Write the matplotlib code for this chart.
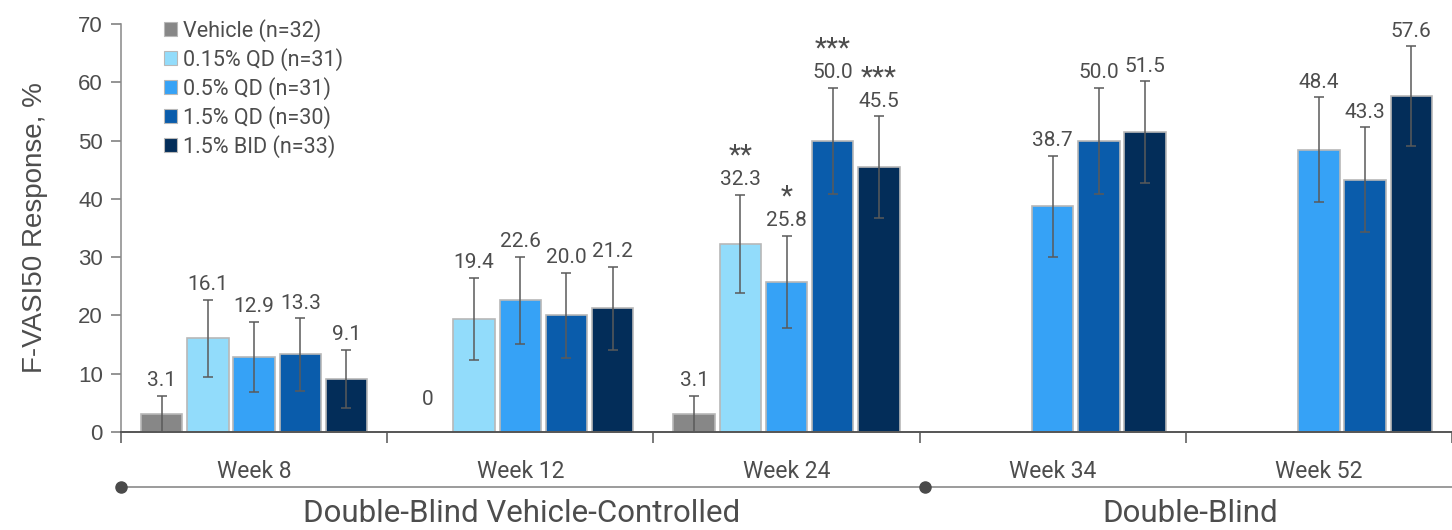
import numpy as np
import matplotlib
matplotlib.use("Agg")
import matplotlib.pyplot as plt
from matplotlib.patches import Patch
from matplotlib.lines import Line2D

weeks = ["Week 8", "Week 12", "Week 24", "Week 34", "Week 52"]
groups = ["Vehicle (n=32)", "0.15% QD (n=31)", "0.5% QD (n=31)",
          "1.5% QD (n=30)", "1.5% BID (n=33)"]
colors = ["#878787", "#92dcfb", "#36a2f6", "#0a5cab", "#032d59"]

# response rate per group, one entry per week (None = not assessed)
vehicle = [3.1, 0.0, 3.1, None, None]
qd015 = [16.1, 19.4, 32.3, None, None]
qd05 = [12.9, 22.6, 25.8, 38.7, 48.4]
qd15 = [13.3, 20.0, 50.0, 50.0, 43.3]
bid15 = [9.1, 21.2, 45.5, 51.5, 57.6]

# standard errors
vehicle_se = [3.1, 0.0, 3.1, None, None]
qd015_se = [6.6, 7.1, 8.4, None, None]
qd05_se = [6.0, 7.5, 7.9, 8.7, 9.0]
qd15_se = [6.2, 7.3, 9.1, 9.1, 9.0]
bid15_se = [5.0, 7.1, 8.7, 8.7, 8.6]

stars = {(2, 1): "**", (2, 2): "*", (2, 3): "***", (2, 4): "***"}

values = [vehicle, qd015, qd05, qd15, bid15]
errors = [vehicle_se, qd015_se, qd05_se, qd15_se, bid15_se]

txt = "#4d4d4d"
dinlike = ["Roboto", "DejaVu Sans"]

fig = plt.figure(figsize=(14.52, 5.30), dpi=100)
ax = fig.add_axes([121 / 1452, 1 - 432 / 530, 1331 / 1452, 408 / 530])

x = np.arange(len(weeks))
pitch = 0.1735
width = 0.156

for i, (vals, errs) in enumerate(zip(values, errors)):
    for j in range(len(weeks)):
        v = vals[j]
        if v is None:
            continue
        e = errs[j]
        xp = x[j] + (i - 2) * pitch
        if v > 0:
            ax.bar(xp, v, width, color=colors[i], edgecolor="#b8b8b8",
                   linewidth=1.2, zorder=2)
        if e > 0:
            ax.errorbar(xp, v, yerr=[[min(e, v)], [e]], fmt="none",
                        ecolor="#5a5a5a", elinewidth=1.1, capsize=3.5,
                        capthick=1.1, zorder=3)
        top = v + e if v + e > 0 else 3.0
        ax.annotate(f"{v:.1f}" if v > 0 else "0", (xp, top),
                    xytext=(0, 4), textcoords="offset points",
                    ha="center", va="bottom", fontsize=15,
                    color=txt, family=dinlike)
        if (j, i) in stars:
            ax.annotate(stars[(j, i)], (xp, top), xytext=(0, 18),
                        textcoords="offset points", ha="center",
                        va="bottom", fontsize=20, color=txt,
                        family=dinlike)

ax.set_xlim(-0.5, 4.5)
ax.set_ylim(0, 70)
ax.set_yticks(range(0, 71, 10))
ax.tick_params(axis="y", labelsize=16, labelcolor=txt, color="#777777",
               length=7, width=1.1, pad=6)
for lab in ax.get_yticklabels():
    lab.set_family("Liberation Sans")

ax.set_xticks(np.arange(-0.5, 5.0, 1.0))
ax.set_xticklabels([])
ax.set_xticks(x, minor=True)
ax.set_xticklabels(weeks, minor=True, fontsize=16.5, color=txt,
                   family=dinlike)
ax.tick_params(axis="x", which="major", length=8, width=1.1,
               color="#555555")
ax.tick_params(axis="x", which="minor", length=0, pad=20)

for s in ["top", "right"]:
    ax.spines[s].set_visible(False)
ax.spines["left"].set_color("#888888")
ax.spines["left"].set_linewidth(1.1)
ax.spines["bottom"].set_color("#555555")
ax.spines["bottom"].set_linewidth(1.4)

ax.set_ylabel("F-VASI50 Response, %", fontsize=20, color=txt,
              family="Liberation Sans", labelpad=22)

handles = [Patch(facecolor=c, edgecolor="#b8b8b8", linewidth=0.8)
           for c in colors]
leg = ax.legend(handles, groups, loc="upper left",
                bbox_to_anchor=(164 / 1452, 1 - 19 / 530),
                bbox_transform=fig.transFigure, frameon=False,
                handlelength=0.6, handleheight=0.6,
                handletextpad=0.3, labelspacing=0.28, borderaxespad=0,
                borderpad=0, prop={"family": dinlike, "size": 15.5})
for t in leg.get_texts():
    t.set_color(txt)

# study phase bracket under the axis
yb = 1 - 487 / 530
fig.add_artist(Line2D([121 / 1452, 1.0], [yb, yb], color="#8a8a8a",
                      linewidth=1.2, transform=fig.transFigure))
for xd in [121 / 1452, 925 / 1452]:
    fig.add_artist(Line2D([xd], [yb], marker="o", markersize=8,
                          color="#4a4a4a", transform=fig.transFigure))
fig.text(522 / 1452, 1 - 514 / 530, "Double-Blind Vehicle-Controlled",
         ha="center", va="center", fontsize=22.5, color=txt, family=dinlike)
fig.text(1190 / 1452, 1 - 514 / 530, "Double-Blind",
         ha="center", va="center", fontsize=22.5, color=txt, family=dinlike)

fig.savefig("out.png", dpi=100)
